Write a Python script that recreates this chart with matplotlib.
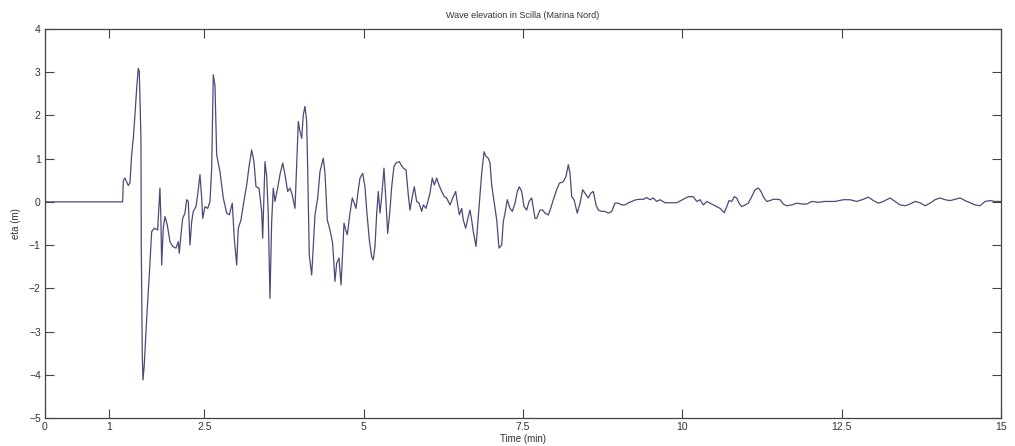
import matplotlib
matplotlib.use("Agg")
import matplotlib.pyplot as plt

# time (min) and wave elevation (m)
t = [0.0, 1.219, 1.229, 1.255, 1.307, 1.334, 1.360, 1.386, 1.412, 1.439, 1.464,
     1.480, 1.506, 1.511, 1.527, 1.538, 1.558, 1.596, 1.637, 1.674, 1.715, 1.768,
     1.804, 1.820, 1.831, 1.856, 1.883, 1.919, 1.961, 2.004, 2.056, 2.092, 2.107,
     2.134, 2.161, 2.197, 2.223, 2.249, 2.275, 2.302, 2.327, 2.369, 2.396, 2.432,
     2.459, 2.475, 2.511, 2.553, 2.589, 2.616, 2.641, 2.668, 2.694, 2.746, 2.798,
     2.851, 2.892, 2.939, 2.970, 3.008, 3.033, 3.075, 3.112, 3.165, 3.206, 3.243,
     3.279, 3.311, 3.358, 3.400, 3.416, 3.452, 3.479, 3.504, 3.530, 3.557, 3.582,
     3.609, 3.651, 3.687, 3.730, 3.766, 3.808, 3.844, 3.880, 3.923, 3.949, 3.975,
     4.001, 4.028, 4.053, 4.080, 4.106, 4.122, 4.147, 4.185, 4.210, 4.237, 4.279,
     4.315, 4.367, 4.394, 4.430, 4.472, 4.514, 4.550, 4.577, 4.613, 4.645, 4.665,
     4.692, 4.718, 4.743, 4.786, 4.822, 4.853, 4.880, 4.916, 4.943, 4.985, 5.021,
     5.048, 5.089, 5.126, 5.151, 5.178, 5.205, 5.230, 5.257, 5.283, 5.319, 5.346,
     5.377, 5.413, 5.440, 5.476, 5.508, 5.559, 5.586, 5.622, 5.665, 5.701, 5.727,
     5.763, 5.795, 5.832, 5.869, 5.911, 5.936, 5.978, 6.015, 6.041, 6.077, 6.109,
     6.146, 6.182, 6.225, 6.266, 6.303, 6.355, 6.397, 6.444, 6.469, 6.501, 6.539,
     6.564, 6.601, 6.642, 6.669, 6.695, 6.721, 6.763, 6.799, 6.826, 6.852, 6.889,
     6.920, 6.956, 6.983, 7.009, 7.050, 7.088, 7.124, 7.166, 7.191, 7.218, 7.254,
     7.296, 7.333, 7.375, 7.411, 7.442, 7.480, 7.516, 7.558, 7.595, 7.637, 7.689,
     7.715, 7.767, 7.810, 7.846, 7.898, 7.935, 7.976, 8.029, 8.070, 8.133, 8.175,
     8.211, 8.238, 8.265, 8.301, 8.352, 8.395, 8.437, 8.473, 8.525, 8.563, 8.604,
     8.646, 8.682, 8.735, 8.787, 8.839, 8.892, 8.944, 8.996, 9.049, 9.101, 9.143,
     9.206, 9.274, 9.336, 9.388, 9.441, 9.493, 9.545, 9.598, 9.650, 9.729, 9.807,
     9.912, 10.016, 10.094, 10.173, 10.226, 10.278, 10.330, 10.383, 10.435, 10.487,
     10.540, 10.592, 10.659, 10.697, 10.733, 10.775, 10.816, 10.854, 10.890, 10.932,
     10.984, 11.036, 11.089, 11.141, 11.193, 11.235, 11.271, 11.324, 11.376, 11.428,
     11.481, 11.533, 11.585, 11.638, 11.717, 11.795, 11.874, 11.952, 12.031, 12.134,
     12.239, 12.318, 12.396, 12.526, 12.631, 12.736, 12.840, 12.919, 12.997, 13.076,
     13.154, 13.259, 13.338, 13.416, 13.495, 13.573, 13.652, 13.730, 13.808, 13.887,
     13.965, 14.044, 14.122, 14.201, 14.279, 14.358, 14.436, 14.515, 14.593, 14.671,
     14.750, 14.829, 14.907, 15.0]

eta = [0.0, 0.0, 0.49, 0.55, 0.38, 0.44, 1.09, 1.47, 2.01, 2.63, 3.09,
       3.02, 1.48, -1.00, -3.54, -4.12, -3.77, -2.69, -1.69, -0.69, -0.61, -0.65,
       0.32, -0.45, -1.46, -0.61, -0.34, -0.53, -0.92, -1.03, -1.07, -0.92, -1.19,
       -0.76, -0.38, -0.26, 0.05, 0.01, -1.00, -0.46, -0.22, -0.11, 0.16, 0.63,
       0.09, -0.38, -0.11, -0.15, 0.01, 0.78, 2.94, 2.68, 1.09, 0.70, 0.09,
       -0.26, -0.30, -0.03, -0.84, -1.46, -0.61, -0.42, -0.07, 0.39, 0.86, 1.20,
       0.93, 0.35, 0.32, -0.22, -0.84, 0.93, 0.59, -0.30, -2.23, -0.46, 0.32,
       0.01, 0.32, 0.63, 0.90, 0.63, 0.24, 0.32, 0.16, -0.15, 0.86, 1.86,
       1.63, 1.47, 2.01, 2.21, 1.86, 0.78, -1.23, -1.69, -1.00, -0.30, 0.09,
       0.70, 1.01, 0.66, -0.42, -0.65, -0.96, -1.84, -1.42, -1.30, -1.92, -1.34,
       -0.49, -0.65, -0.76, -0.26, 0.09, -0.03, -0.15, 0.28, 0.55, 0.66, 0.35,
       -0.19, -0.88, -1.27, -1.34, -1.03, -0.26, 0.24, -0.26, 0.12, 0.78, 0.12,
       -0.73, -0.19, 0.35, 0.82, 0.90, 0.93, 0.86, 0.78, 0.74, 0.16, -0.19,
       0.12, 0.35, 0.01, -0.03, -0.22, -0.07, -0.15, 0.05, 0.20, 0.55, 0.39,
       0.55, 0.39, 0.24, 0.12, 0.09, -0.07, 0.09, 0.24, 0.01, -0.30, -0.15,
       -0.42, -0.61, -0.34, -0.19, -0.42, -0.69, -1.03, -0.34, 0.20, 0.66, 1.16,
       1.05, 1.01, 0.90, 0.39, -0.03, -0.42, -1.07, -1.00, -0.46, -0.26, 0.05,
       -0.15, -0.22, -0.03, 0.24, 0.35, 0.24, -0.11, -0.19, 0.01, 0.09, -0.38,
       -0.38, -0.19, -0.19, -0.26, -0.30, -0.15, 0.05, 0.28, 0.43, 0.47, 0.59,
       0.86, 0.66, 0.12, 0.05, -0.26, -0.03, 0.28, 0.20, 0.09, 0.20, 0.24,
       -0.07, -0.19, -0.22, -0.22, -0.26, -0.22, -0.03, -0.03, -0.07, -0.07, -0.03,
       0.01, 0.05, 0.06, 0.06, 0.10, 0.05, 0.09, 0.01, 0.05, -0.02, -0.02,
       -0.02, 0.06, 0.12, 0.12, 0.01, 0.05, -0.07, 0.01, -0.03, -0.07,
       -0.11, -0.15, -0.25, -0.11, 0.03, 0.01, 0.12, 0.09, -0.03, -0.11,
       -0.07, -0.03, 0.12, 0.28, 0.32, 0.24, 0.12, 0.01, 0.03, 0.06,
       0.06, 0.05, -0.05, -0.09, -0.07, -0.03, -0.05, -0.05, 0.01, -0.01,
       0.01, 0.01, 0.01, 0.05, 0.05, 0.01, 0.06, 0.11, 0.03, -0.03,
       0.01, 0.09, 0.01, -0.07, -0.09, -0.05, 0.01, -0.02, -0.09, -0.03,
       0.05, 0.09, 0.05, 0.03, 0.06, 0.09, 0.03, -0.02, -0.07, -0.09,
       0.01, 0.03, 0.01, 0.01]

x_ticks = [0, 1, 2.5, 5, 7.5, 10, 12.5, 15]
x_labels = ["0", "1", "2.5", "5", "7.5", "10", "12.5", "15"]
y_ticks = [-5, -4, -3, -2, -1, 0, 1, 2, 3, 4]

plt.rcParams['font.family'] = ['Liberation Sans', 'DejaVu Sans']

fig = plt.figure(figsize=(10.15, 4.46), dpi=100)
ax = fig.add_axes([0.0443, 0.0628, 0.9419, 0.8722])

ax.plot(t, eta, color='#4a4a78', linewidth=0.9)

ax.set_xlim(0, 15)
ax.set_ylim(-5, 4)
ax.set_xticks(x_ticks)
ax.set_xticklabels(x_labels)
ax.set_yticks(y_ticks)
ax.tick_params(direction='in', length=6.5, width=0.8, color='#444444',
               labelsize=7.5, labelcolor='#333333', top=True, right=True, pad=3)

for s in ax.spines.values():
    s.set_color('#444444')
    s.set_linewidth(0.9)

ax.set_title('Wave elevation in Scilla (Marina Nord)', fontsize=6.5,
             color='#333333', pad=8)
ax.set_xlabel('Time (min)', fontsize=7, color='#333333', labelpad=1)
ax.set_ylabel('eta (m)', fontsize=7, color='#333333', labelpad=6)

fig.savefig('out.png', dpi=100)
